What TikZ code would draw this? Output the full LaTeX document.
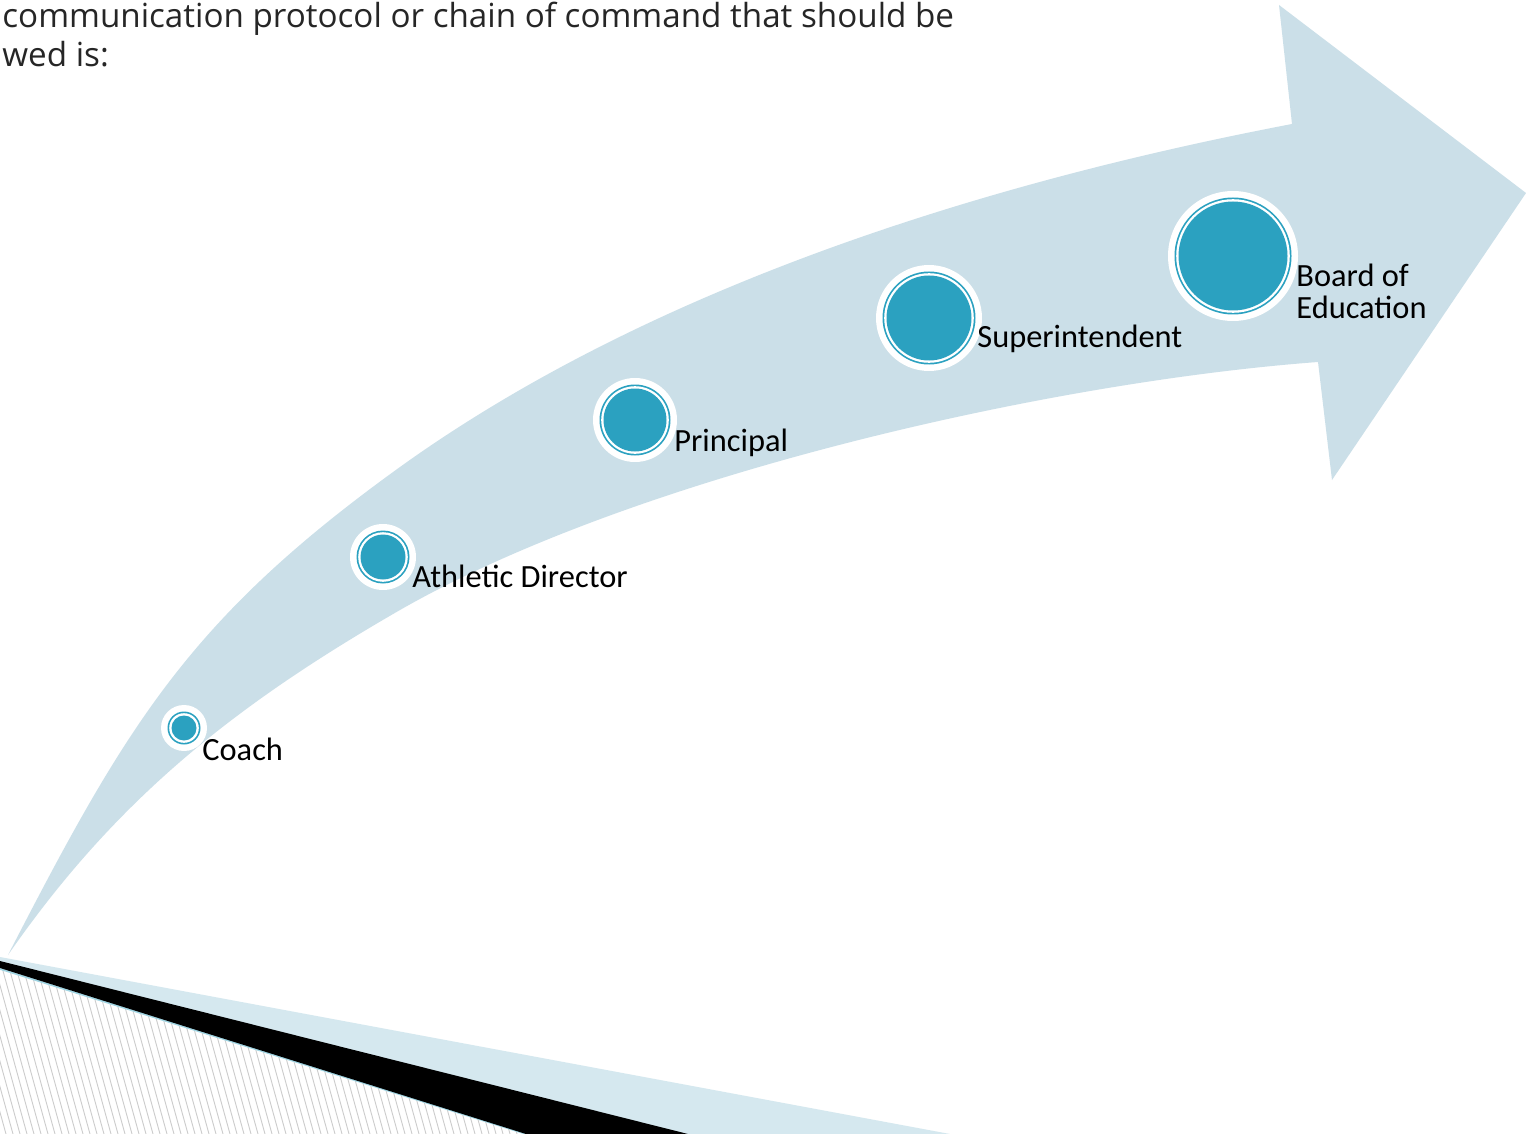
\documentclass[tikz,border=0pt]{standalone}
\usepackage{fontspec}
\setmainfont{Carlito}
\newfontfamily\headfont{Open Sans}
\definecolor{arrowblue}{HTML}{CBDFE8}
\definecolor{bandblue}{HTML}{D5E8EF}
\definecolor{tealdot}{HTML}{2BA1C0}
\newcommand\ringdot[4]{%
  \node[circle, fill=white, inner sep=0pt, minimum size=#4pt] (#1) at (#2,#3) {};
  \pgfmathsetmacro\rA{(#4-6.5)/2}%
  \pgfmathsetmacro\rB{(#4-8.2)/2}%
  \pgfmathsetmacro\rC{(#4-10.5)/2}%
  \fill[tealdot] (#1.center) circle[radius=\rA pt];
  \fill[white] (#1.center) circle[radius=\rB pt];
  \fill[tealdot] (#1.center) circle[radius=\rC pt];
}
\begin{document}
\begin{tikzpicture}[x=0.5pt,y=-0.5pt,
  lbl/.style={anchor=base west, inner sep=0pt, font=\fontsize{16.2}{16.5}\selectfont, text=black},
  head/.style={anchor=base west, inner sep=0pt, font=\headfont\fontsize{16.6}{19}\selectfont, text=black!85}]
\useasboundingbox (0,0) rectangle (1526,1134);
\fill[white] (0,0) rectangle (1526,1134);

% curved arrow
\fill[arrowblue] (8,955) .. controls (127,724) and (189,619) .. (400,467)
  .. controls (652,286) and (988,182) .. (1292,124)
  -- (1279,5) -- (1526,193) -- (1332,480) -- (1318,362)
  .. controls (1049,382) and (634,476) .. (400,610)
  .. controls (235,705) and (116,799) .. (8,955) -- cycle;

% bottom decoration
\fill[bandblue] (0,957) -- (950,1134) -- (0,1134) -- cycle;
\begin{scope}
  \clip (0,969) -- (526,1134) -- (0,1134) -- cycle;
  \fill[white] (0,960) rectangle (530,1134);
  \foreach \x in {-84,-77,...,540} \draw[gray!40, line width=0.45pt] (\x,960) -- (\x+48,1134);
\end{scope}
\draw[tealdot!45, line width=0.8pt] (0,969) -- (526,1134);
\fill[black] (0,961) -- (688,1134) -- (526,1134) -- (0,968) -- cycle;

% steps
\ringdot{coach}{184}{728}{23}
\ringdot{ad}{383}{557}{33}
\ringdot{principal}{635}{420}{42}
\ringdot{super}{929}{318}{53}
\ringdot{board}{1233}{256}{65}

\node[lbl] (tcoach) at (202,760) {Coach};
\node[lbl] (tad) at (412,587) {Athletic Director};
\node[lbl] (tprincipal) at (674,451) {Principal};
\node[lbl] (tsuper) at (977,348) {Superintendent};
\node[lbl] (tboard1) at (1296,286) {Board of};
\node[lbl] (tboard2) at (1296,319) {Education};

% heading text
\node[head] (h1) at (2,28) {communication protocol or chain of command that should be};
\node[head] (h2) at (2,67) {wed is:};
\end{tikzpicture}
\end{document}
